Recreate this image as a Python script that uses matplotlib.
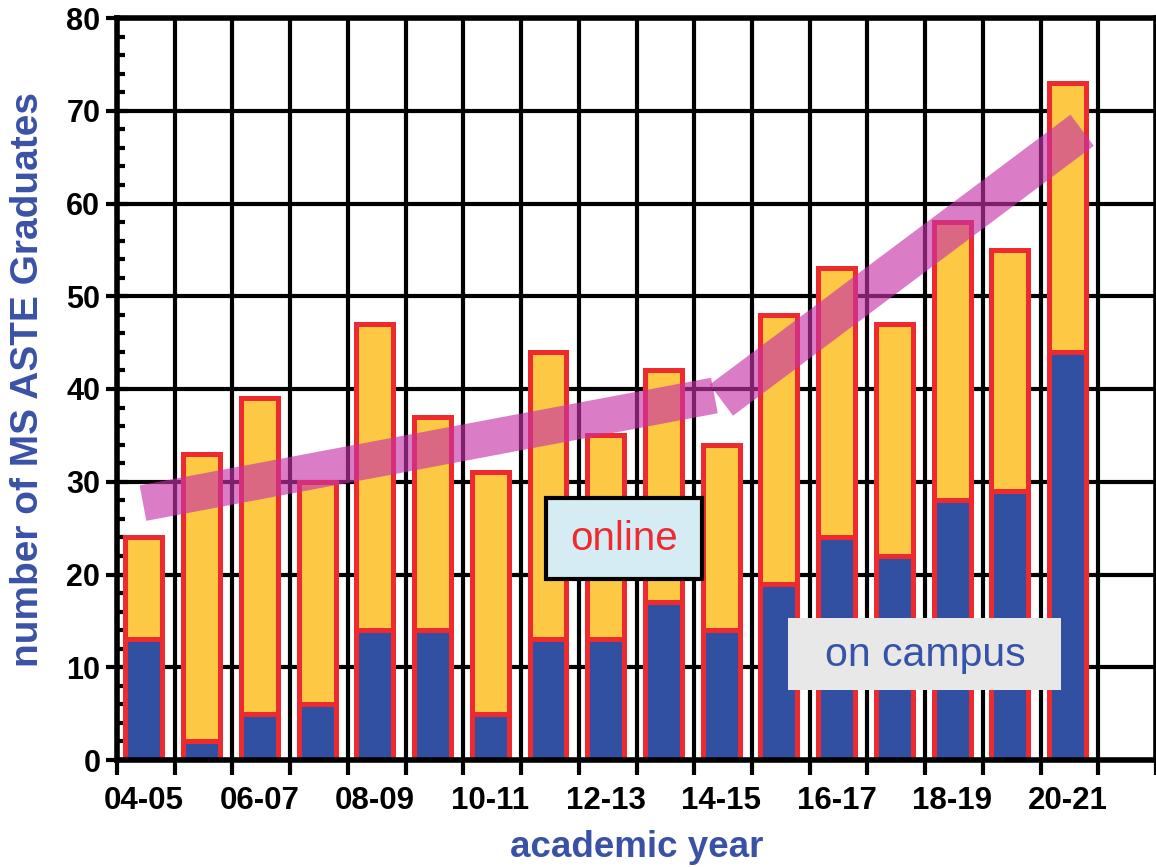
import matplotlib
matplotlib.use("Agg")
import matplotlib.pyplot as plt
from matplotlib.ticker import MultipleLocator
import numpy as np

years = ["04-05", "05-06", "06-07", "07-08", "08-09", "09-10", "10-11", "11-12",
         "12-13", "13-14", "14-15", "15-16", "16-17", "17-18", "18-19", "19-20", "20-21"]
on_campus = [13, 2, 5, 6, 14, 14, 5, 13, 13, 17, 14, 19, 24, 22, 28, 29, 44]
online = [11, 31, 34, 24, 33, 23, 26, 31, 22, 25, 20, 29, 29, 25, 30, 26, 29]

# hand-drawn trend band (two segments), in (year index, graduates)
trend1_x = [0.45, 10.35]
trend1_y = [27.7, 39.3]
trend2_x = [10.47, 16.72]
trend2_y = [38.8, 67.9]

BLUE = "#3150a2"
YELLOW = "#fdc843"
RED = "#ee2a2e"
LABEL_BLUE = "#3a52a6"

plt.rcParams["font.family"] = ["Liberation Sans", "DejaVu Sans"]

fig = plt.figure(figsize=(11.56, 8.67), dpi=100)
ax = fig.add_axes([117 / 1156, 1 - 760 / 867, 1 - 117 / 1156, (760 - 18) / 867])

x = np.arange(len(years)) + 0.467
w = 0.64
ax.bar(x, on_campus, width=w, color=BLUE, edgecolor=RED, linewidth=3.6, zorder=3)
ax.bar(x, online, bottom=on_campus, width=w, color=YELLOW, edgecolor=RED,
       linewidth=3.6, zorder=3)

band_color = (0.78, 0.2, 0.66, 0.64)
ax.plot(trend1_x, trend1_y, color=band_color, lw=26, solid_capstyle="butt", zorder=5)
ax.plot(trend2_x, trend2_y, color=band_color, lw=28, solid_capstyle="butt", zorder=5)

ax.set_xlim(0, 17.98)
ax.set_ylim(0, 80)

ax.set_xticks(np.arange(0, 19))
ax.set_xticklabels([])
ax.set_xticks(x[::2], years[::2], minor=True)
ax.tick_params(axis="x", which="major", direction="out", length=11, width=3)
ax.tick_params(axis="x", which="minor", length=0, pad=19, labelsize=22.5)

ax.yaxis.set_major_locator(MultipleLocator(10))
ax.yaxis.set_minor_locator(MultipleLocator(2))
ax.tick_params(axis="y", which="major", direction="inout", length=16, width=3,
               labelsize=22, pad=4)
ax.tick_params(axis="y", which="minor", direction="in", length=6, width=3)
for lab in ax.get_xticklabels(minor=True) + ax.get_yticklabels():
    lab.set_fontweight("bold")

ax.grid(True, which="major", color="black", linewidth=3, zorder=0)
ax.set_axisbelow(True)
for s in ax.spines.values():
    s.set_linewidth(4)
    s.set_zorder(4)

ax.set_xlabel("academic year", fontsize=26.5, fontweight="bold", color=LABEL_BLUE, labelpad=10)
ax.set_ylabel("number of MS ASTE Graduates", fontsize=28, fontweight="bold",
              color=LABEL_BLUE)
ax.yaxis.set_label_coords(-0.068, 0.513)

# label boxes
fig.patches.append(plt.Rectangle((546 / 1156, 1 - 579 / 867), 156 / 1156, 81 / 867,
                                 transform=fig.transFigure, facecolor="#d6ecf4",
                                 edgecolor="black", linewidth=3, zorder=5))
fig.text(624 / 1156, 1 - 539 / 867, "online", ha="center", va="center",
         fontsize=29, color=RED, zorder=7)
fig.patches.append(plt.Rectangle((788 / 1156, 1 - 690 / 867), 273 / 1156, 72 / 867,
                                 transform=fig.transFigure, facecolor="#e8e8e8",
                                 edgecolor="none", zorder=5))
fig.text(925 / 1156, 1 - 655 / 867, "on campus", ha="center", va="center",
         fontsize=29.5, color="#3653aa", zorder=7)

fig.savefig("out.png", dpi=100)
